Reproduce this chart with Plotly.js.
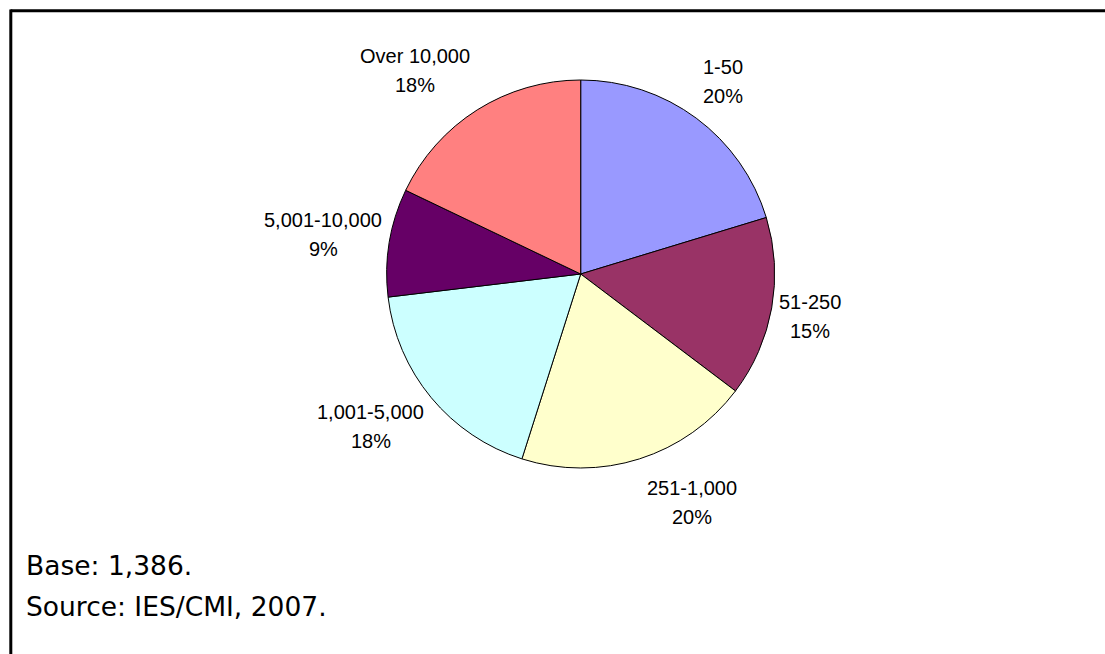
<!DOCTYPE html>
<html><head><meta charset="utf-8">
<script src="https://cdn.plot.ly/plotly-3.0.1.min.js"></script>
<style>html,body{margin:0;padding:0;background:#fff;overflow:hidden}</style>
</head><body><div id="chart" style="width:1105px;height:654px"></div>
<script>
const categories = ['1-50', '51-250', '251-1,000', '1,001-5,000', '5,001-10,000', 'Over 10,000'];
const shares = [20.3, 15.0, 19.6, 18.2, 9.0, 17.9];
const sliceColors = ['#9999FF', '#993366', '#FFFFCC', '#CCFFFF', '#660066', '#FF8080'];
const footnotes = ['Base: 1,386.', 'Source: IES/CMI, 2007.'];

const W = 1105, H = 654, cx = 580.7, cy = 274, R = 194;
const labelFont = {family: 'Liberation Sans, Arial, sans-serif', size: 20, color: '#000'};
const ctx = document.createElement('canvas').getContext('2d');
ctx.font = '20px "Liberation Sans", Arial, sans-serif';
const total = shares.reduce((a, b) => a + b, 0);
let cum = 0;
const annotations = [];
shares.forEach((v, i) => {
  const mid = (cum + v / 2) / total * 2 * Math.PI; cum += v;
  const s = Math.sin(mid), c = Math.cos(mid);
  const px = cx + R * s, py = cy - R * c;
  const right = s >= 0;
  const pct = Math.round(v / total * 100) + '%';
  const w = Math.max(ctx.measureText(categories[i]).width, ctx.measureText(pct).width);
  const edge = px + (right ? 7 : -7);
  const bx = right ? edge + w / 2 : edge - w / 2;
  const by = py - c * 46;
  [[categories[i], by - 14.5], [pct, by + 14.5]].forEach(([t, yy]) => {
    annotations.push({
      xref: 'paper', yref: 'paper', x: bx / W, y: 1 - yy / H,
      xanchor: 'center', yanchor: 'middle', showarrow: false,
      text: t, font: labelFont
    });
  });
});
footnotes.forEach((t, i) => {
  annotations.push({
    xref: 'paper', yref: 'paper', x: 24 / W, y: 1 - (565 + i * 41) / H,
    xanchor: 'left', yanchor: 'middle', showarrow: false, text: t,
    font: {family: 'DejaVu Sans, sans-serif', size: 26.5, color: '#000'}
  });
});

const trace = {
  type: 'pie', values: shares, labels: categories, sort: false,
  direction: 'clockwise', rotation: 0,
  marker: {colors: sliceColors, line: {color: '#000', width: 1}},
  textinfo: 'none', hoverinfo: 'none', showlegend: false,
  domain: {x: [(cx - R) / W, (cx + R) / W], y: [1 - (cy + R) / H, 1 - (cy - R) / H]}
};
const layout = {
  width: W, height: H, margin: {l: 0, r: 0, t: 0, b: 0},
  paper_bgcolor: '#fff', showlegend: false, annotations: annotations,
  shapes: [
    {type: 'line', xref: 'paper', yref: 'paper', x0: 10.5 / W, x1: 1, y0: 1 - 10.8 / H, y1: 1 - 10.8 / H, line: {color: '#000', width: 3}},
    {type: 'line', xref: 'paper', yref: 'paper', x0: 10.8 / W, x1: 10.8 / W, y0: 0, y1: 1 - 9.5 / H, line: {color: '#000', width: 3}}
  ]
};
Plotly.newPlot('chart', [trace], layout, {displayModeBar: false, staticPlot: true});
</script></body></html>
